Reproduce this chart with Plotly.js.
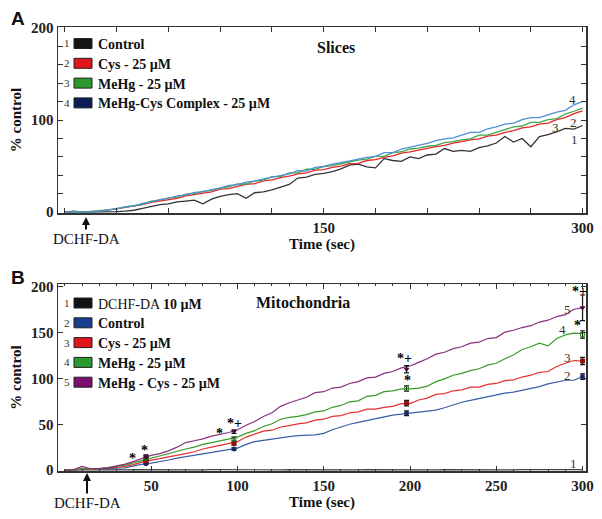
<!DOCTYPE html>
<html><head><meta charset="utf-8">
<script src="https://cdn.plot.ly/plotly-3.0.1.min.js"></script>
<style>html,body{margin:0;padding:0;background:#fff}</style>
</head><body><div id="chart" style="width:602px;height:519px"></div>
<script>
// ---------- Panel A (Slices) ----------
const timeA = [0,5,10,15,20,25,30,35,40,45,50,55,60,65,70,75,80,85,90,95,100,105,110,115,120,125,130,135,140,145,150,155,160,165,170,175,180,185,190,195,200,205,210,215,220,225,230,235,240,245,250,255,260,265,270,275,280,285,290,295,300];
const sliceControl = [0,1,0,0,0,0,0.5,1,2,4,6,8,9,11,12,13,9,14,17,19,20,15,21,22,24,27,30,37,38,41,42,44,47,51,52,49,48,58,56,55,60,58,62,63,69,66,67,66,70,72,75,82,76,80,71,82,84,87,91,90,94];
const sliceCys = [0,0,0,0.5,1,2,3.5,5,6.5,8,10.5,12,14,15,17.5,19,21,22,25,25.5,28,30,31,34,35,37.5,39,41.5,42.5,45.5,46,48.5,50,52.5,53,56,57,59.5,61,64,65.5,67.5,69.5,71,72.5,75,76.5,78.5,79.5,82.5,83.5,86.5,88.5,91.5,92.5,95.5,96.5,100.5,102.5,107,110];
const sliceMeHg = [0,0.5,0,0.5,1.5,2.5,4,5.5,7.5,8.5,12,13,15.5,16,19.5,20,22.5,23.5,26,27.5,30.5,30.5,34,34.5,38.5,38.5,42.5,42.5,46.5,46.5,49.5,50.5,52.5,54.5,56.5,57.5,60.5,60.5,64.5,65.5,68.5,69.5,71.5,72.5,75.5,76.5,78.5,79.5,83.5,83.5,86.5,89.5,92.5,93.5,97.5,97.5,100.5,101.5,106.5,109.5,113];
const sliceComplex = [0,0,0,0,1,2,3.5,6,6.5,9.5,11,13.5,15,17.5,18.5,21.5,22,24.5,26,29,29.5,32.5,33.5,36,38,39.5,41.5,45,44.5,48.5,49.5,52,53.5,55.5,57.5,59.5,60.5,64.5,64.5,68.5,70.5,72.5,74.5,77.5,79.5,80.5,83.5,86.5,86.5,90.5,92.5,95.5,96.5,100.5,102.5,102.5,105.5,108.5,110.5,116.5,120];
const namesA = ['Control','Cys - 25 µM','MeHg - 25 µM','MeHg-Cys Complex - 25 µM'];
const lineColorsA = ['#333333','#e8262b','#3fa84a','#4f8fd6'];
const boxColorsA = ['#151515','#e0161c','#2a9a30','#0c1a55'];
const labelA = ['1','2','3','4'];
const labelAt = [295.5,295,284.5,294];
const labelAv = [79,97,92,122];

// ---------- Panel B (Mitochondria) ----------
const timeB = timeA;
const mitoDCHF = [0,0.5,0.3,0.5,0.3,0.5,0.4,0.3,0.5,0.4,0.3,0.5,0.4,0.3,0.5,0.4,0.3,0.5,0.4,0.3,0.5,0.4,0.3,0.5,0.4,0.3,0.5,0.4,0.3,0.5,0.4,0.3,0.5,0.4,0.3,0.5,0.4,0.3,0.5,0.4,0.3,0.5,0.4,0.3,0.5,0.4,0.3,0.5,0.4,0.3,0.5,0.4,0.3,0.5,0.4,0.3,0.5,0.4,0.3,0.5,0.4];
const mitoControl = [0,0,1,1,1,1.5,2,2.5,4.5,6.5,7.5,9,11,13,14.5,16,17.5,19.5,21,22.5,24,28,31,32.5,34,35,36.5,37.5,38,38.5,40,44,47,50,52,54,56,58,60,61,62,63,64,65.5,68,71,74,76,78,80,82,84,85,87,89,91,94,96,98,98,102];
const mitoCys = [0,0,1.5,1,1.5,2,3,4,6,9,10.5,12.5,14.5,16,18,20,23,25,27,28.5,31,36,39,42.5,43.5,47,48.5,50.5,51.5,54.5,55.5,58.5,59.5,62.5,63.5,66.5,66.5,68.5,69.5,72.5,72.5,76.5,78.5,82.5,83.5,86.5,87.5,90.5,90.5,93.5,94.5,97.5,98.5,101.5,103.5,106.5,107.5,113,116.5,119.5,119];
const mitoMeHg = [0,0,2,1,1.5,2.5,4,5.5,8,11,13.5,16,18,21,23,25,28,30,32,33.5,36,40,43,47.5,50.5,55.5,57.5,58.5,60.5,63.5,64.5,68.5,70.5,74.5,75.5,80.5,81.5,85.5,86.5,88.5,88.5,89.5,91.5,96.5,99.5,103.5,105.5,108.5,110.5,114.5,116.5,121.5,125.5,131.5,134.5,138.5,135.5,143.5,147.5,149.5,149];
const mitoComplex = [0,0.5,4,1.5,1.5,2.5,4.5,6.5,9.5,13,16,18,21,25,30,32,34,37,39,41,44,49,53,58.5,62.5,69.5,73.5,76.5,79.5,84.5,85.5,89.5,90.5,94.5,96.5,100.5,101.5,105.5,107.5,111.5,113.5,117.5,121.5,126.5,128.5,132.5,134.5,138.5,139.5,143.5,144.5,150.5,152.5,155.5,157.5,161.5,163.5,167.5,169.5,175.5,177];
const namesB = ['DCHF-DA <b>10 µM</b>','<b>Control</b>','<b>Cys - 25 µM</b>','<b>MeHg - 25 µM</b>','<b>MeHg - Cys - 25 µM</b>'];
const lineColorsB = ['#444444','#3b5ea8','#e53030','#3a9a2a','#8b2f7e'];
const boxColorsB = ['#111111','#1a3f8f','#e0161c','#2a9a30','#7a1070'];
const labelB = ['1','2','3','4','5'];
const labelBt = [294.5,291,291.5,288.5,291];
const labelBv = [7,103,123,153,175];

// mean ± error points (series 2..5)
const markTime = [47,98,198,300];
const markControl = [7,23,62,102];
const errControl = [1,1.5,2.5,3];
const markCys = [10,29,73,119];
const errCys = [1,1.5,3,4];
const markMeHg = [13,34,89,148];
const errMeHg = [1.5,2,3,4];
const markComplex = [15,42,110,177];
const errComplex = [1.5,2,4,14];
const markSymbols = ['circle','square','square-open','triangle-down'];
const markColors = ['#142a6a','#8a1010','#2a8a20','#4a0a40'];

// significance marks
const sigText = ['*','*','*+','*','*+','*','*+','*'];
const sigT = [46,39,98,89.5,197,198.5,298,297];
const sigV = [21,12.5,51,40,122,98,195,158];

// ---------- build ----------
const W = 602, H = 519;
const px = x => x / W, py = y => 1 - y / H;
const serif = 'Liberation Serif, Times New Roman, serif';
const traces = [];
const seriesA = [sliceControl, sliceCys, sliceMeHg, sliceComplex];
seriesA.forEach((s, i) => traces.push({x: timeA, y: s, type: 'scatter', mode: 'lines', xaxis: 'x', yaxis: 'y',
  line: {color: lineColorsA[i], width: 1.3}, showlegend: false, hoverinfo: 'skip'}));
const seriesB = [mitoDCHF, mitoControl, mitoCys, mitoMeHg, mitoComplex];
seriesB.forEach((s, i) => traces.push({x: timeB, y: s, type: 'scatter', mode: 'lines', xaxis: 'x2', yaxis: 'y2',
  line: {color: lineColorsB[i], width: 1.2}, showlegend: false, hoverinfo: 'skip'}));
const marks = [[markControl, errControl], [markCys, errCys], [markMeHg, errMeHg], [markComplex, errComplex]];
marks.forEach((m, i) => traces.push({x: markTime, y: m[0], type: 'scatter', mode: 'markers', xaxis: 'x2', yaxis: 'y2',
  marker: {symbol: markSymbols[i], size: 4, color: markColors[i], line: {color: markColors[i], width: 1}},
  error_y: {type: 'data', array: m[1], visible: true, color: '#111', thickness: 1.2, width: 2.5},
  showlegend: false, hoverinfo: 'skip'}));

const shapes = [], annotations = [];
function note(o) { annotations.push(Object.assign({xanchor: 'center', yanchor: 'middle', showarrow: false}, o)); }
function legend(names, nums, colors, y0, boldAll) {
  names.forEach((n, i) => {
    const cy = y0 + i * 19.8;
    shapes.push({type: 'rect', xref: 'paper', yref: 'paper', x0: px(74), x1: px(92), y0: py(cy + 5), y1: py(cy - 5),
      fillcolor: colors[i], line: {color: '#222', width: 1}});
    note({xref: 'paper', yref: 'paper', x: px(72), y: py(cy), xanchor: 'right',
      text: nums[i], font: {family: serif, size: 11, color: '#333'}});
    note({xref: 'paper', yref: 'paper', x: px(96), y: py(cy + 1), xanchor: 'left',
      text: boldAll ? '<b>' + n + '</b>' : n, font: {family: serif, size: 14, color: '#111'}});
  });
}
legend(namesA, labelA, boxColorsA, 43.5, true);
legend(namesB, labelB, boxColorsB, 303, false);

labelA.forEach((l, i) => note({xref: 'x', yref: 'y', x: labelAt[i], y: labelAv[i], text: l,
  font: {family: serif, size: 13, color: '#333'}}));
labelB.forEach((l, i) => note({xref: 'x2', yref: 'y2', x: labelBt[i], y: labelBv[i], text: l,
  font: {family: serif, size: 13, color: '#333'}}));
sigText.forEach((s, i) => note({xref: 'x2', yref: 'y2', x: sigT[i], y: sigV[i], text: '<b>' + s + '</b>',
  font: {family: serif, size: 14, color: '#000'}}));

note({xref: 'paper', yref: 'paper', x: px(336), y: py(47), text: '<b>Slices</b>', font: {family: serif, size: 16, color: '#111'}});
note({xref: 'paper', yref: 'paper', x: px(303), y: py(302), text: '<b>Mitochondria</b>', font: {family: serif, size: 16, color: '#111'}});
note({xref: 'paper', yref: 'paper', x: px(17.5), y: py(18.5), text: '<b>A</b>', font: {family: 'Liberation Sans, Arial, sans-serif', size: 19, color: '#111'}});
note({xref: 'paper', yref: 'paper', x: px(17.5), y: py(277), text: '<b>B</b>', font: {family: 'Liberation Sans, Arial, sans-serif', size: 19, color: '#111'}});
note({xref: 'paper', yref: 'paper', x: px(86), y: py(217), ax: 0, ay: 22, text: 'DCHF-DA', showarrow: true,
  arrowhead: 2, arrowsize: 0.8, arrowwidth: 2, arrowcolor: '#111', font: {family: serif, size: 15, color: '#111'}});
note({xref: 'paper', yref: 'paper', x: px(87), y: py(473), ax: 0, ay: 30, text: 'DCHF-DA', showarrow: true,
  arrowhead: 2, arrowsize: 0.8, arrowwidth: 2, arrowcolor: '#111', font: {family: serif, size: 15, color: '#111'}});

const tickFont = {family: serif, size: 15, color: '#222', weight: 'bold'};
const titleFont = {family: serif, size: 15, color: '#111', weight: 'bold'};
const axBase = {showline: true, linecolor: '#333', linewidth: 1.5, mirror: 'allticks', ticks: 'inside', ticklen: 5,
  tickcolor: '#333', tickwidth: 1, showgrid: false, zeroline: false, tickfont: tickFont, fixedrange: true};
const xTicksA = [0,30,60,90,120,150,180,210,240,270,300];
const xTextA = ['','','','','','150','','','','','300'];
const yTicksA = [0,20,40,60,80,100,120,140,160,180,200];
const yTextA = ['0','','','','','100','','','','','200'];
const xTicksB = [50,100,150,200,250,300];
const yTicksB = [0,50,100,150,200];

const layout = {
  width: W, height: H, margin: {l: 0, r: 0, t: 0, b: 0}, paper_bgcolor: '#fff', plot_bgcolor: '#fff',
  showlegend: false,
  xaxis: Object.assign({}, axBase, {domain: [px(58), px(586)], range: [-4, 302], anchor: 'y', tickmode: 'array',
    tickvals: xTicksA, ticktext: xTextA, title: {text: 'Time (sec)', font: titleFont, standoff: 4}}),
  yaxis: Object.assign({}, axBase, {domain: [py(213), py(27)], range: [-1, 201], anchor: 'x', tickmode: 'array',
    tickvals: yTicksA, ticktext: yTextA, title: {text: '% control', font: titleFont, standoff: 6}}),
  xaxis2: Object.assign({}, axBase, {domain: [px(58), px(586)], range: [-4, 302], anchor: 'y2', tickmode: 'array',
    tickvals: xTicksB, minor: {dtick: 10, tick0: 0, ticks: 'inside', ticklen: 2, tickcolor: '#333'},
    title: {text: 'Time (sec)', font: titleFont, standoff: 4}}),
  yaxis2: Object.assign({}, axBase, {domain: [py(471), py(284)], range: [-1, 203], anchor: 'x2', tickmode: 'array',
    tickvals: yTicksB, title: {text: '% control', font: titleFont, standoff: 6}}),
  shapes: shapes, annotations: annotations
};
Plotly.newPlot('chart', traces, layout, {displayModeBar: false, staticPlot: true});
</script></body></html>
